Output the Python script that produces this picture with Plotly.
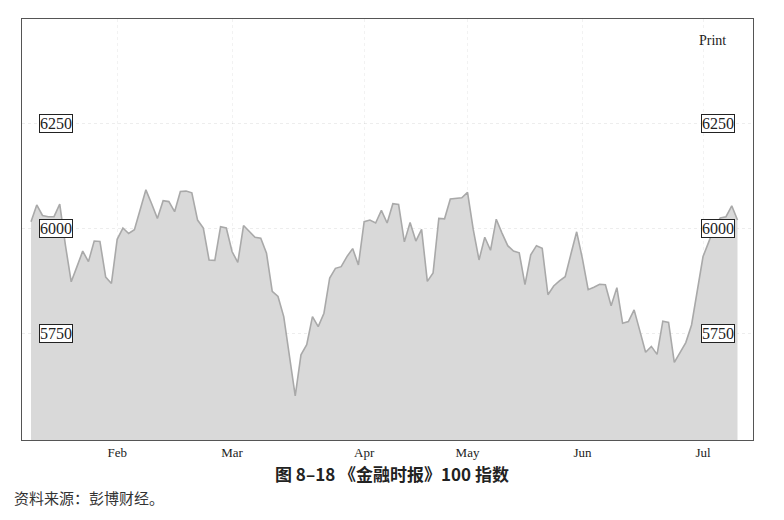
import plotly.graph_objects as go

# trading-day index and FTSE 100 closing level
days = list(range(124))
values = [
    6017, 6057, 6032, 6029, 6029, 6059, 5960, 5874, 5910, 5947,
    5922, 5971, 5970, 5885, 5870, 5975, 6002, 5989, 5998, 6045,
    6093, 6060, 6025, 6067, 6065, 6041, 6089, 6090, 6086, 6021,
    6002, 5926, 5925, 6005, 6002, 5946, 5920, 6008, 5994, 5980,
    5978, 5942, 5851, 5839, 5791, 5696, 5602, 5700, 5724, 5791,
    5767, 5799, 5883, 5906, 5910, 5934, 5953, 5914, 6017, 6021,
    6014, 6044, 6014, 6060, 6058, 5969, 6015, 5971, 5999, 5875,
    5895, 6025, 6024, 6071, 6073, 6074, 6087, 5998, 5926, 5980,
    5949, 6023, 5990, 5960, 5947, 5943, 5867, 5938, 5960, 5954,
    5843, 5864, 5876, 5886, 5940, 5993, 5929, 5855, 5861, 5868,
    5867, 5817, 5860, 5775, 5779, 5807, 5757, 5706, 5720, 5701,
    5780, 5777, 5682, 5704, 5729, 5771, 5848, 5934, 5969, 6005,
    6026, 6029, 6055, 6021,
]

month_ticks = [15, 35, 58, 76, 96, 117]
month_labels = ["Feb", "Mar", "Apr", "May", "Jun", "Jul"]
level_labels = [6250, 6000, 5750]

fig = go.Figure()
fig.add_trace(go.Scatter(
    x=days, y=values, mode="lines",
    line=dict(color="#a9a9a9", width=1.6),
    fill="tozeroy", fillcolor="#d9d9d9",
    hoverinfo="skip", showlegend=False,
))

annotations = []
for lv in level_labels:
    for px in (0.0465, 0.952):
        annotations.append(dict(
            x=px, xref="paper", y=lv, yref="y", text=str(lv), showarrow=False,
            font=dict(family="Liberation Serif", size=16, color="#222"),
            bgcolor="white", bordercolor="#222", borderwidth=1, borderpad=0,
            xanchor="center", yanchor="middle",
        ))

annotations.append(dict(
    x=0.945, xref="paper", y=0.948, yref="paper", text="Print", showarrow=False,
    xanchor="center", yanchor="middle",
    font=dict(family="Liberation Serif", size=14, color="#222"),
))
annotations.append(dict(
    x=0.506, xref="paper", y=-0.0795, yref="paper", yanchor="middle",
    text="<b>图 8–18 《金融时报》100 指数</b>", showarrow=False,
    font=dict(family="Noto Sans CJK SC", size=17, color="#222"),
))
annotations.append(dict(
    x=-0.0137, xref="paper", xanchor="left", y=-0.136, yref="paper", yanchor="middle",
    text="资料来源：彭博财经。", showarrow=False,
    font=dict(family="Noto Sans CJK SC", size=15, color="#333"),
))

fig.update_layout(
    width=776, height=512,
    margin=dict(l=14, r=31, t=11, b=80, autoexpand=False),
    paper_bgcolor="white", plot_bgcolor="white",
    xaxis=dict(
        range=[-1.57, 125.7], tickvals=month_ticks, ticktext=month_labels,
        showgrid=True, gridcolor="rgba(0,0,0,0.05)", griddash="dot",
        showline=True, linecolor="#555", linewidth=1, mirror=True,
        ticks="", zeroline=False,
        tickfont=dict(family="Liberation Serif", size=13, color="#222"),
    ),
    yaxis=dict(
        range=[5497, 6500], tickvals=level_labels, showticklabels=False,
        showgrid=True, gridcolor="rgba(0,0,0,0.07)", griddash="dot",
        showline=True, linecolor="#555", linewidth=1, mirror=True,
        ticks="", zeroline=False,
    ),
    annotations=annotations,
)

fig.write_html("out.html")
